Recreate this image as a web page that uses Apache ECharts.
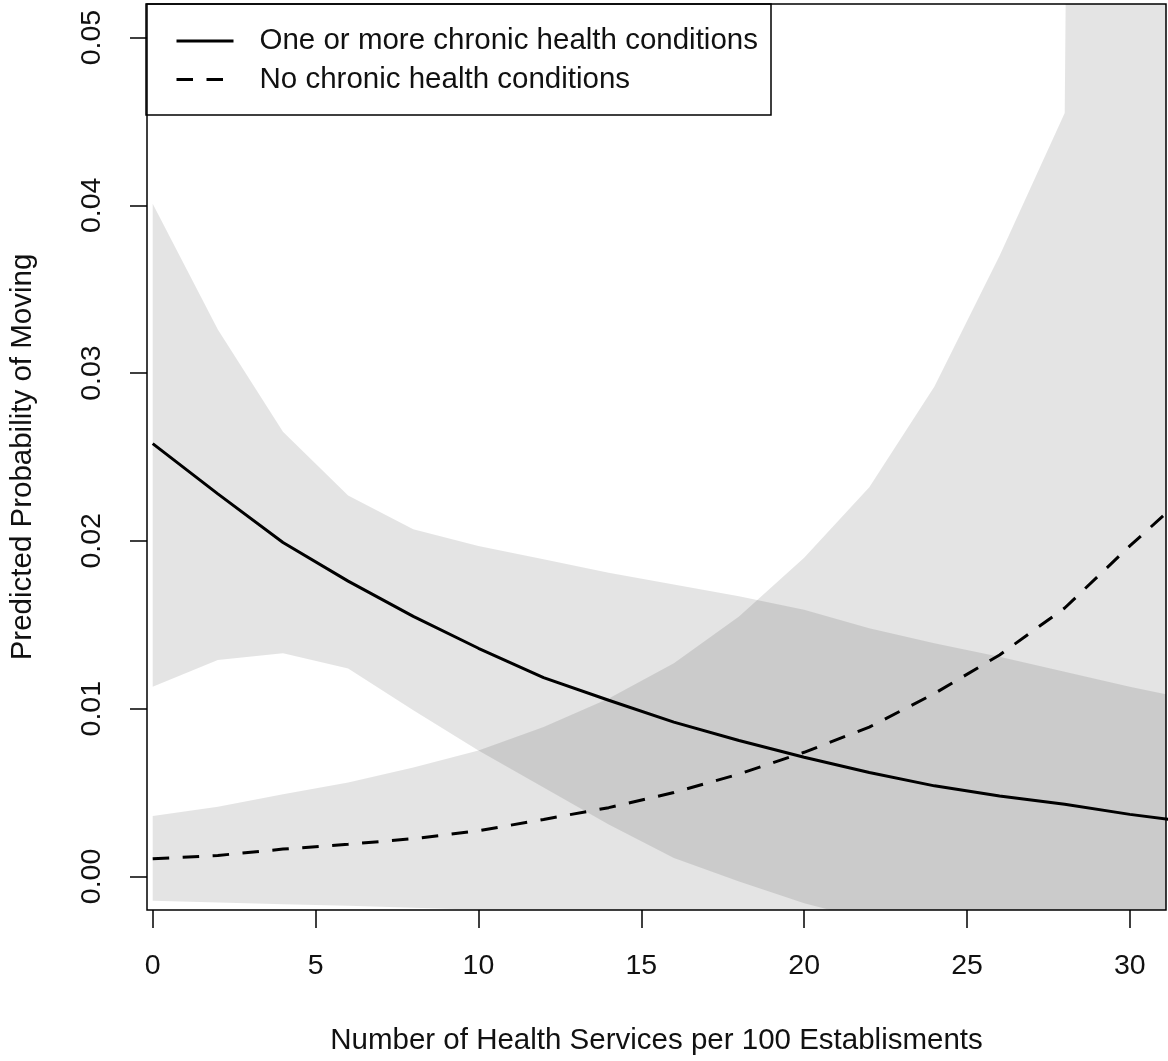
<!DOCTYPE html>
<html>
<head>
<meta charset="utf-8">
<script src="https://cdn.jsdelivr.net/npm/echarts@6/dist/echarts.min.js"></script>
<style>
  html, body { margin: 0; padding: 0; background: #fff; }
  #chart { width: 1168px; height: 1061px; }
</style>
</head>
<body>
<div id="chart"></div>
<script>
// ---- data ----
const xs = [0, 2, 4, 6, 8, 10, 12, 14, 16, 18, 20, 22, 24, 26, 28, 30, 32];

const chronicFit   = [0.0258, 0.0228, 0.0199, 0.0176, 0.0155, 0.0136, 0.01185, 0.0105, 0.0092, 0.0081, 0.0071, 0.0062, 0.0054, 0.0048, 0.0043, 0.0037, 0.0032];
const chronicUpper = [0.0401, 0.0326, 0.0265, 0.0227, 0.0207, 0.0197, 0.0189, 0.0181, 0.0174, 0.0167, 0.0159, 0.0148, 0.0139, 0.0131, 0.0122, 0.0113, 0.0105];
const chronicLower = [0.0113, 0.0129, 0.0133, 0.0124, 0.0099, 0.0075, 0.0053, 0.0031, 0.0011, -0.0003, -0.0016, -0.0026, -0.0034, -0.0040, -0.0045, -0.0049, -0.0052];

const noneFit   = [0.00105, 0.00125, 0.00163, 0.00192, 0.00225, 0.00272, 0.0034, 0.0041, 0.0050, 0.0061, 0.0074, 0.0089, 0.0109, 0.0132, 0.0160, 0.0197, 0.0232];
const noneUpper = [0.0036, 0.00415, 0.0049, 0.0056, 0.0065, 0.0075, 0.0089, 0.0106, 0.0127, 0.0155, 0.0190, 0.0232, 0.0292, 0.0370, 0.0455, 0.5, 1.0];
const noneLower = [-0.00145, -0.00155, -0.00165, -0.00175, -0.00186, -0.00198, -0.0021, -0.0022, -0.0023, -0.0024, -0.0025, -0.0026, -0.0027, -0.0028, -0.0029, -0.0030, -0.0031];

const seriesNames = ['One or more chronic health conditions', 'No chronic health conditions'];
const xTicks = [0, 5, 10, 15, 20, 25, 30];
const yTicks = [0, 0.01, 0.02, 0.03, 0.04, 0.05];
const yTickLabels = ['0.00', '0.01', '0.02', '0.03', '0.04', '0.05'];
const xTitle = 'Number of Health Services per 100 Establisments';
const yTitle = 'Predicted Probability of Moving';

// ---- chart ----
const FONT = 'Liberation Sans, Arial, sans-serif';
const TXT = '#111';
const BAND = 'rgba(0,0,0,0.105)';

const pairs = (ys) => xs.map((x, i) => [x, ys[i]]);

function bandSeries(id, lo, hi) {
  return {
    id: id, type: 'custom', clip: true, silent: true, z: 1,
    data: [[xs[0], lo[0]]],
    renderItem: (params, api) => {
      const pts = [];
      for (let i = 0; i < xs.length; i++) pts.push(api.coord([xs[i], hi[i]]));
      for (let i = xs.length - 1; i >= 0; i--) pts.push(api.coord([xs[i], lo[i]]));
      return { type: 'polygon', shape: { points: pts }, style: { fill: BAND, stroke: null } };
    }
  };
}

const chart = echarts.init(document.getElementById('chart'), null, { renderer: 'canvas' });
chart.setOption({
  animation: false,
  backgroundColor: '#fff',
  grid: { left: 146, right: 2, top: 4, bottom: 148, show: true, borderColor: '#000', borderWidth: 1.5, backgroundColor: 'transparent' },
  xAxis: {
    type: 'value', min: -0.175, max: 31.11,
    axisLine: { show: false, onZero: false }, splitLine: { show: false },
    axisTick: { show: true, inside: false, length: 18, lineStyle: { color: '#000', width: 1.5 }, customValues: xTicks },
    axisLabel: { customValues: xTicks, margin: 42, fontSize: 28.5, color: TXT, fontFamily: FONT },
    name: xTitle, nameLocation: 'middle', nameGap: 116,
    nameTextStyle: { fontSize: 29.5, color: TXT, fontFamily: FONT }
  },
  yAxis: {
    type: 'value', min: -0.002, max: 0.052,
    axisLine: { show: false, onZero: false }, splitLine: { show: false },
    axisTick: { show: true, inside: false, length: 17, lineStyle: { color: '#000', width: 1.5 }, customValues: yTicks },
    axisLabel: {
      customValues: yTicks, rotate: 90, margin: 40, fontSize: 28.5, color: TXT, fontFamily: FONT,
      formatter: (v) => {
        let best = 0;
        yTicks.forEach((t, i) => { if (Math.abs(t - v) < Math.abs(yTicks[best] - v)) best = i; });
        return yTickLabels[best];
      }
    },
    name: yTitle, nameLocation: 'middle', nameGap: 109, nameRotate: 90,
    nameTextStyle: { fontSize: 29.5, color: TXT, fontFamily: FONT }
  },
  legend: {
    data: seriesNames, orient: 'vertical', left: 175, top: 26, padding: 0,
    itemWidth: 57, itemHeight: 14, itemGap: 8.5,
    lineStyle: { color: '#000', width: 3 },
    itemStyle: { color: 'rgba(0,0,0,0)', borderWidth: 0 },
    textStyle: { fontSize: 29.5, color: TXT, fontFamily: FONT, padding: [0, 0, 0, 21] }
  },
  graphic: [{
    type: 'rect', shape: { x: 146, y: 4, width: 625, height: 111 },
    style: { fill: 'none', stroke: '#000', lineWidth: 1.5 }, silent: true
  }],
  series: [
    bandSeries('b1', chronicLower, chronicUpper),
    bandSeries('b2', noneLower, noneUpper),
    { name: seriesNames[0], type: 'line', data: pairs(chronicFit), symbol: 'none',
      lineStyle: { color: '#000', width: 3, type: 'solid' },
      itemStyle: { color: 'rgba(0,0,0,0)', borderWidth: 0 }, z: 5 },
    { name: seriesNames[1], type: 'line', data: pairs(noneFit), symbol: 'none',
      lineStyle: { color: '#000', width: 3, type: [16.5, 13.5] },
      itemStyle: { color: 'rgba(0,0,0,0)', borderWidth: 0 }, z: 5 }
  ]
});
</script>
</body>
</html>
